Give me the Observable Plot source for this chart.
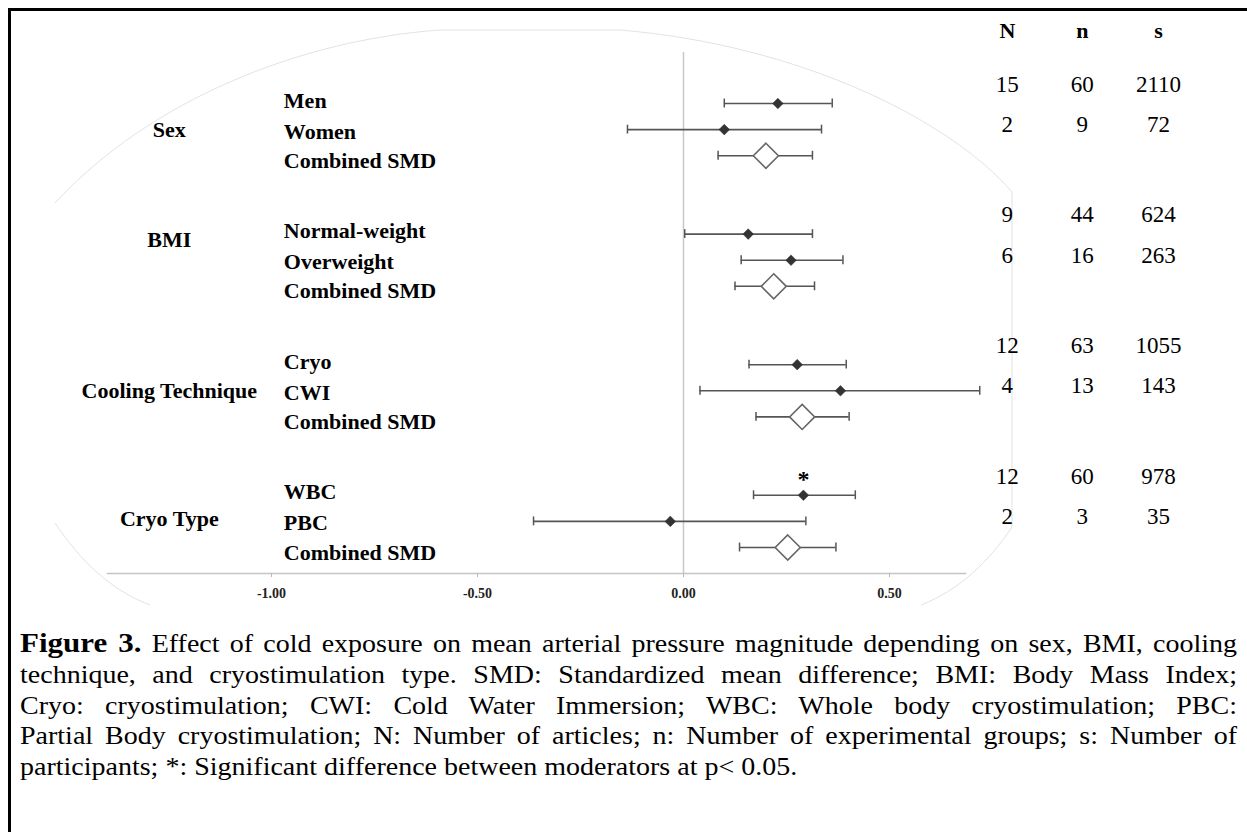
<!DOCTYPE html>
<html>
<head>
<meta charset="utf-8">
<script src="https://cdn.jsdelivr.net/npm/d3@7"></script>
<script src="https://cdn.jsdelivr.net/npm/@observablehq/plot@0.6"></script>
<style>
  html, body { margin: 0; padding: 0; background: #fff; }
  #page { position: relative; width: 1247px; height: 832px; overflow: hidden; background: #fff;
          font-family: "Liberation Serif", "Times New Roman", serif; }
  #frame { position: absolute; left: 8px; top: 8px; width: 1260px; height: 840px;
           border-left: 3px solid #000; border-top: 3px solid #000; box-sizing: border-box; }
  #chart { position: absolute; left: 0; top: 0; }
  #deco { position: absolute; left: 0; top: 0; pointer-events: none; }
  #caption { position: absolute; left: 20px; top: 628px; width: 1217px; font-size: 28px;
             line-height: 33.9px; color: #000; transform: scaleY(0.9); transform-origin: 0 0; }
  #caption .ln { text-align: justify; text-align-last: justify; white-space: nowrap; }
  #caption .ln.last { text-align: left; text-align-last: left; }
  #caption b { font-size: 31px; }
</style>
</head>
<body>
<div id="page">
  <div id="frame"></div>
  <svg id="deco" width="1247" height="640">
    <path d="M 55 203 C 150 100, 300 40, 440 30 L 620 30 C 800 45, 950 120, 1012 192 L 1012 527 C 990 560, 960 590, 921 605"
          fill="none" stroke="#dadada" stroke-width="0.8"/>
    <path d="M 55 523 C 80 560, 110 590, 150 605" fill="none" stroke="#dadada" stroke-width="0.8"/>
  </svg>
  <div id="chart"></div>
  <div id="caption">
    <div class="ln"><b>Figure 3.</b> Effect of cold exposure on mean arterial pressure magnitude depending on sex, BMI, cooling</div>
    <div class="ln">technique, and cryostimulation type. SMD: Standardized mean difference; BMI: Body Mass Index;</div>
    <div class="ln">Cryo: cryostimulation; CWI: Cold Water Immersion; WBC: Whole body cryostimulation; PBC:</div>
    <div class="ln">Partial Body cryostimulation; N: Number of articles; n: Number of experimental groups; s: Number of</div>
    <div class="ln last">participants; *: Significant difference between moderators at p&lt; 0.05.</div>
  </div>
</div>
<script>
// ---------------- data ----------------
const groups = ["Sex", "BMI", "Cooling Technique", "Cryo Type"];
const subgroups = ["Men", "Women", "Combined SMD",
                   "Normal-weight", "Overweight", "Combined SMD",
                   "Cryo", "CWI", "Combined SMD",
                   "WBC", "PBC", "Combined SMD"];
const groupOf = [0, 0, 0, 1, 1, 1, 2, 2, 2, 3, 3, 3];
const smd    = [0.229, 0.099, 0.200, 0.157, 0.261, 0.219, 0.276, 0.381, 0.288, 0.291, -0.032, 0.253];
const ciLow  = [0.099, -0.136, 0.084, 0.003, 0.140, 0.125, 0.159, 0.040, 0.176, 0.170, -0.364, 0.136];
const ciHigh = [0.361, 0.335, 0.313, 0.313, 0.387, 0.318, 0.395, 0.719, 0.402, 0.417, 0.297, 0.370];
const articles     = [15, 2, null, 9, 6, null, 12, 4, null, 12, 2, null];
const expGroups    = [60, 9, null, 44, 16, null, 63, 13, null, 60, 3, null];
const participants = [2110, 72, null, 624, 263, null, 1055, 143, null, 978, 35, null];
const significant  = [false, false, false, false, false, false, false, false, false, true, false, false];
const statHeaders = ["N", "n", "s"];
const tickValues = [-1, -0.5, 0, 0.5];

// ---------------- layout ----------------
const rowH = (547 - 103) / 17;              // px per row
const px = p => p / rowH;                   // px offset -> row units
const labelX = -0.97, groupX = -1.248;
const statX = [0.786, 0.968, 1.153];
const headerRow = -2.79;
const labelDy = [-3, 2, 5];
const statDy = [-19, -5];
const groupLabelShift = [0, -20, 0, -2];
const serif = "Liberation Serif, Times New Roman, serif";

const rows = subgroups.map((name, i) => {
  const g = groupOf[i];
  const pos = i - groupOf.indexOf(g);
  return {
    name, group: groups[g], g, pos,
    row: g * 5 + pos,
    est: smd[i], lo: ciLow[i], hi: ciHigh[i],
    combined: name === "Combined SMD",
    stats: [articles[i], expGroups[i], participants[i]],
    sig: significant[i]
  };
});
const studies = rows.filter(d => !d.combined);
const pooled = rows.filter(d => d.combined);
const groupRows = groups.map((gname, g) => ({name: gname, g, row: g * 5 + 1 + px(groupLabelShift[g])}));

const statMarks = statHeaders.flatMap((h, k) => [
  Plot.text([h], {x: () => statX[k], y: () => headerRow, text: d => d, fontSize: 22, fontWeight: "bold",
                  fontFamily: serif, fill: "#000"}),
  Plot.text(studies, {x: () => statX[k], y: d => d.row + px(statDy[d.pos]), text: d => String(d.stats[k]),
                      fontSize: 23, fontFamily: serif, fill: "#000"})
]);

const chart = Plot.plot({
  width: 1247,
  height: 620,
  marginLeft: 107,
  marginRight: 282,
  marginTop: 0,
  marginBottom: 47,
  style: {fontFamily: serif, background: "transparent", overflow: "visible"},
  x: {domain: [-1, 0.5], range: [271, 889]},
  y: {domain: [0, 17], range: [103, 547], axis: null},
  marks: [
    Plot.frame({anchor: "bottom", stroke: "#c4c4c4", strokeWidth: 1.5}),
    Plot.ruleX([0], {y1: () => -1.95, y2: () => 18, stroke: "#c8c8c8", strokeWidth: 1.5}),
    Plot.axisX({ticks: tickValues, tickFormat: d => d.toFixed(2), tickSize: 4, tickPadding: 11,
                fontSize: 14, fontWeight: "bold", fontFamily: serif, stroke: "#b8b8b8", fill: "#222", label: null}),
    // error bars
    Plot.ruleY(rows, {y: "row", x1: "lo", x2: "hi", stroke: "#555", strokeWidth: 1.6}),
    Plot.ruleX(rows, {x: "lo", y1: d => d.row - 0.17, y2: d => d.row + 0.17, stroke: "#555", strokeWidth: 1.5}),
    Plot.ruleX(rows, {x: "hi", y1: d => d.row - 0.17, y2: d => d.row + 0.17, stroke: "#555", strokeWidth: 1.5}),
    // point estimates
    Plot.dot(studies, {x: "est", y: "row", symbol: "diamond2", r: 4.8, fill: "#333", stroke: "#333", strokeWidth: 0.5}),
    Plot.dot(pooled, {x: "est", y: "row", symbol: "diamond2", r: 11.3, fill: "#fff", stroke: "#666", strokeWidth: 1.6}),
    // significance
    Plot.text(rows.filter(d => d.sig), {x: "est", y: "row", text: () => "*", dy: -16, fontSize: 24,
                                        fontWeight: "bold", fontFamily: serif, fill: "#000"}),
    // labels
    Plot.text(rows, {x: () => labelX, y: d => d.row + px(labelDy[d.pos]), text: "name", textAnchor: "start",
                     fontSize: 22, fontWeight: "bold", fontFamily: serif, fill: "#000"}),
    Plot.text(groupRows, {x: () => groupX, y: "row", text: "name", textAnchor: "middle",
                          fontSize: 22, fontWeight: "bold", fontFamily: serif, fill: "#000"}),
    ...statMarks
  ]
});
document.getElementById("chart").appendChild(chart);
</script>
</body>
</html>
